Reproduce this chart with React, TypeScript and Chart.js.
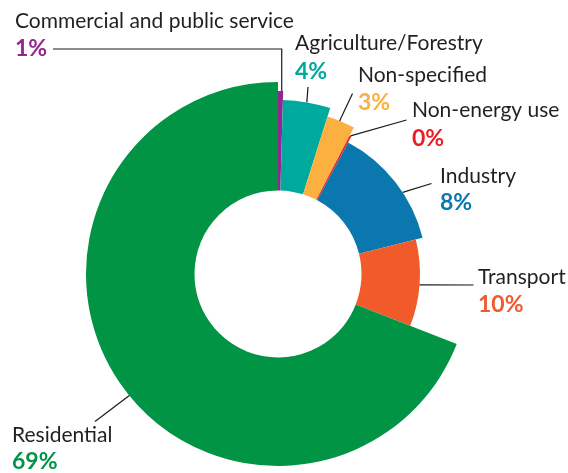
import React, { useEffect, useRef } from "react";
import { Chart, registerables } from "chart.js";

Chart.register(...registerables);

// ---- data ----
const categories = [
  "Commercial and public service",
  "Agriculture/Forestry",
  "Non-specified",
  "Non-energy use",
  "Industry",
  "Transport",
  "Residential",
];
const shares = [0.45, 4.4, 2.75, 0.2, 13.3, 9.85, 69.05];
const shareLabels = ["1%", "4%", "3%", "0%", "8%", "10%", "69%"];

// ---- styles ----
const colors = ["#93278F", "#00A99D", "#FBB040", "#ED1C24", "#0A77AE", "#F15A29", "#009444"];
const radiusRatios = [183 / 192, 174 / 192, 165 / 192, 156 / 192, 149 / 192, 142 / 192, 1];

// label layout: text left x, name baseline, pct baseline, leader start points, anchor fraction on arc
const labelLayout = [
  { x: 15, ny: 28, py: 56, pts: [[53, 49]], frac: 0.72, elbow: true },
  { x: 295, ny: 50, py: 79, pts: [[308, 87]], frac: 0.5, elbow: false },
  { x: 358, ny: 82, py: 110, pts: [[352.5, 93.5]], frac: 0.45, elbow: false },
  { x: 412, ny: 117, py: 146, pts: [[406.5, 120]], frac: 0.5, elbow: false },
  { x: 440, ny: 183, py: 210, pts: [[431.5, 183.5]], frac: 0.6, elbow: false },
  { x: 478, ny: 284, py: 312, pts: [[473.5, 285]], frac: 0.52, elbow: false },
  { x: 12, ny: 442, py: 469, pts: [[95, 421.5]], frac: 0.48, elbow: false },
];

const FONT = "Lato, 'Open Sans', sans-serif";

const radiusPlugin = {
  id: "varRadius",
  afterDatasetsUpdate(chart: any) {
    const meta = chart.getDatasetMeta(0);
    meta.data.forEach((arc: any, i: number) => {
      arc.outerRadius = arc.outerRadius * radiusRatios[i];
    });
  },
};

const labelPlugin = {
  id: "calloutLabels",
  afterDraw(chart: any) {
    const ctx = chart.ctx as CanvasRenderingContext2D;
    const meta = chart.getDatasetMeta(0);
    ctx.save();
    meta.data.forEach((arc: any, i: number) => {
      const L = labelLayout[i];
      const a = arc.startAngle + (arc.endAngle - arc.startAngle) * L.frac;
      const r = arc.outerRadius;
      const ax = arc.x + Math.cos(a) * r;
      const ay = arc.y + Math.sin(a) * r;
      ctx.strokeStyle = "#1a1a1a";
      ctx.lineWidth = 1.2;
      ctx.beginPath();
      ctx.moveTo(L.pts[0][0], L.pts[0][1]);
      for (let k = 1; k < L.pts.length; k++) ctx.lineTo(L.pts[k][0], L.pts[k][1]);
      if (L.elbow) ctx.lineTo(ax, L.pts[L.pts.length - 1][1]);
      ctx.lineTo(ax, ay);
      ctx.stroke();

      ctx.textAlign = "left";
      ctx.textBaseline = "alphabetic";
      ctx.fillStyle = "#231F20";
      ctx.font = `21px ${FONT}`;
      ctx.fillText(categories[i], L.x, L.ny);
      ctx.fillStyle = colors[i];
      ctx.font = `bold 23px ${FONT}`;
      ctx.fillText(shareLabels[i], L.x, L.py);
    });
    ctx.restore();
  },
};

export default function App() {
  const ref = useRef<HTMLCanvasElement | null>(null);
  useEffect(() => {
    if (!ref.current) return;
    const chart = new Chart(ref.current, {
      type: "doughnut",
      data: {
        labels: categories,
        datasets: [
          {
            data: shares,
            backgroundColor: colors,
            borderWidth: 0,
          },
        ],
      },
      options: {
        animation: false,
        responsive: false,
        cutout: `${(83.5 / 192) * 100}%`,
        layout: { padding: { left: 86, top: 82, right: 98, bottom: 7 } },
        plugins: { legend: { display: false }, tooltip: { enabled: false } },
      },
      plugins: [radiusPlugin, labelPlugin],
    } as any);
    return () => chart.destroy();
  }, []);
  return (
    <div style={{ position: "fixed", left: 0, top: 0, width: 568, height: 473, background: "#fff" }}>
      <canvas ref={ref} width={568} height={473} />
    </div>
  );
}
